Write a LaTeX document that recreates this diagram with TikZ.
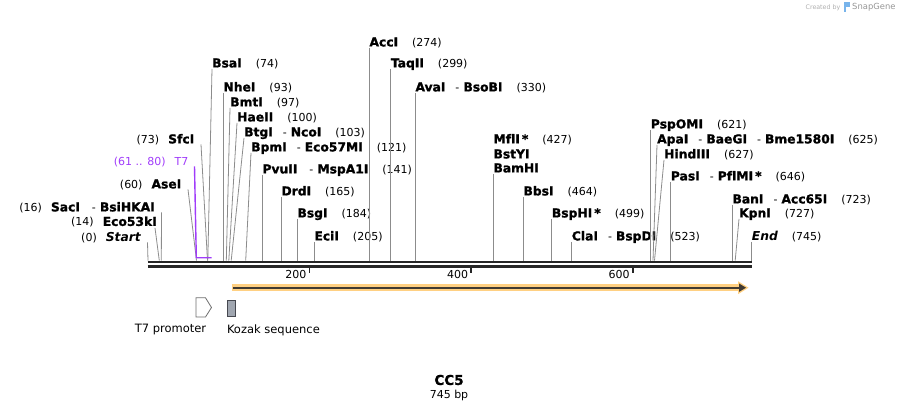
\documentclass[tikz,border=0pt]{standalone}
\usepackage{fontspec}
\setmainfont{DejaVu Sans}[Ligatures=NoCommon, BoldFeatures={FakeBold=1.3}]
\usetikzlibrary{arrows.meta}
\definecolor{sitec}{RGB}{140,140,140}
\definecolor{bbc}{RGB}{38,38,38}
\definecolor{tsev}{RGB}{160,60,250}
\definecolor{glowc}{RGB}{255,208,130}
\definecolor{featc}{RGB}{64,58,50}
\definecolor{kozakc}{RGB}{160,166,176}
\definecolor{sgblue}{RGB}{120,180,235}
\newcommand\enzn[1]{{\fontsize{12.3}{14}\selectfont\bfseries #1}}
\newcommand\enzp[1]{{\fontsize{11}{13}\selectfont(#1)}}
\newcommand\enzsep{\hspace{10pt}{\fontsize{11}{13}\selectfont-}\hspace{4pt}}
\newcommand\enzgap{\hspace{14pt}}
\newcommand\enzlgap{\hspace{9pt}}
\begin{document}
\begin{tikzpicture}[x=1pt,y=-1pt,
  rlab/.style={anchor=base west, inner sep=0pt},
  llab/.style={anchor=base east, inner sep=0pt},
  sitel/.style={draw=sitec, line width=0.8pt},
  bbline/.style={draw=bbc, line width=2.6pt},
  tickl/.style={draw=bbc, line width=1.6pt},
  ticklab/.style={anchor=east, inner sep=0pt, font=\fontsize{11}{13}\selectfont},
  featlab/.style={inner sep=0pt, font=\fontsize{11.5}{13}\selectfont}]
\useasboundingbox (0,0) rectangle (900,411);

% backbone
\coordinate (bbL1) at (147.5,262); \coordinate (bbR1) at (752,262);
\coordinate (bbL2) at (147.5,266.3); \coordinate (bbR2) at (752,266.3);
\draw[bbline] (bbL1) -- (bbR1);
\draw[bbline] (bbL2) -- (bbR2);

% ticks
\coordinate (t200a) at (309.3,267); \coordinate (t200b) at (309.3,273.5);
\coordinate (t400a) at (471,267); \coordinate (t400b) at (471,273.5);
\coordinate (t600a) at (632.7,267); \coordinate (t600b) at (632.7,273.5);
\draw[tickl] (t200a) -- (t200b);
\draw[tickl] (t400a) -- (t400b);
\draw[tickl] (t600a) -- (t600b);
\node[ticklab] (l200) at (306.5,274.5) {200};
\node[ticklab] (l400) at (468.2,274.5) {400};
\node[ticklab] (l600) at (629.9,274.5) {600};

% site coordinates on the backbone
\foreach \n/\x in {0/148,14/159.3,16/161.3,60/196.5,73/207.5,74/207.8,93/223.3,97/226.3,100/228.8,103/231.2,121/245.7,141/262.3,165/281.3,184/297.3,205/314.3,274/369.3,299/390.7,330/415.3,427/493.3,464/523.3,499/551.7,523/571.7,621/650.7,625/653,627/654.5,646/670.7,723/732.3,727/735.2,745/751.7}
  \coordinate (s\n) at (\x,260.6);

% right-side labels
\node[rlab] (bsa)  at (212,67.4)   {\enzn{BsaI}\enzgap\enzp{74}};
\node[rlab] (nhe)  at (223.3,91.4) {\enzn{NheI}\enzgap\enzp{93}};
\node[rlab] (bmt)  at (230,106.4)  {\enzn{BmtI}\enzgap\enzp{97}};
\node[rlab] (hae)  at (237,121.4)  {\enzn{HaeII}\enzgap\enzp{100}};
\node[rlab] (btg)  at (244,136.4)  {\enzn{BtgI}\enzsep\enzn{NcoI}\enzgap\enzp{103}};
\node[rlab] (bpm)  at (251,151.4)  {\enzn{BpmI}\enzsep\enzn{Eco57MI}\enzgap\enzp{121}};
\node[rlab] (pvu)  at (262.3,173.4){\enzn{PvuII}\hspace{2pt}\enzsep\enzn{MspA1I}\enzgap\enzp{141}};
\node[rlab] (drd)  at (281.3,195.4){\enzn{DrdI}\enzgap\enzp{165}};
\node[rlab] (bsg)  at (297.3,217.4){\enzn{BsgI}\enzgap\enzp{184}};
\node[rlab] (eci)  at (314.3,240.4){\enzn{EciI}\enzgap\enzp{205}};
\node[rlab] (acc)  at (369.3,46.4) {\enzn{AccI}\enzgap\enzp{274}};
\node[rlab] (taq)  at (390.7,67.4) {\enzn{TaqII}\enzgap\enzp{299}};
\node[rlab] (ava)  at (415.3,91.4) {\enzn{AvaI}\enzsep\enzn{BsoBI}\enzgap\enzp{330}};
\node[rlab] (mfl)  at (493.3,143.4){\enzn{Mf{}lI\,*}\enzgap\enzp{427}};
\node[rlab] (bsty) at (493.3,158.4){\enzn{BstYI}};
\node[rlab] (bam)  at (493.3,172.4){\enzn{BamHI}};
\node[rlab] (bbs)  at (523.3,195.4){\enzn{BbsI}\enzgap\enzp{464}};
\node[rlab] (bsph) at (551.7,217.4){\enzn{BspHI\,*}\enzgap\enzp{499}};
\node[rlab] (cla)  at (571.7,240.4){\enzn{ClaI}\enzsep\enzn{BspDI}\enzgap\enzp{523}};
\node[rlab] (psp)  at (650.7,128.4){\enzn{PspOMI}\enzgap\enzp{621}};
\node[rlab] (apa)  at (657,143.4)  {\enzn{ApaI}\enzsep\enzn{BaeGI}\enzsep\enzn{Bme1580I}\enzgap\enzp{625}};
\node[rlab] (hind) at (664,158.4)  {\enzn{HindIII}\enzgap\enzp{627}};
\node[rlab] (pas)  at (670.7,180.4){\enzn{PasI}\enzsep\enzn{Pf{}lMI\,*}\enzgap\enzp{646}};
\node[rlab] (ban)  at (732.3,203.4){\enzn{BanI}\enzsep\enzn{Acc65I}\enzgap\enzp{723}};
\node[rlab] (kpn)  at (739,217.4)  {\enzn{KpnI}\enzgap\enzp{727}};
\node[rlab] (endl) at (751.7,240.4){\enzn{\itshape End}\enzgap\enzp{745}};

% left-side labels
\node[llab] (sfc)  at (194.5,143.4)  {\enzp{73}\enzlgap\enzn{SfcI}};
\node[llab, text=tsev] (t7) at (188.5,165.4) {\fontsize{11}{13}\selectfont(61 .. 80)\enzlgap T7};
\node[llab] (ase)  at (181.5,188.4)  {\enzp{60}\enzlgap\enzn{AseI}};
\node[llab] (sac)  at (155,211.4)  {\enzp{16}\enzlgap\enzn{SacI}\hspace{2pt}\enzsep\enzn{BsiHKAI}};
\node[llab] (eco)  at (157,225.9)  {\enzp{14}\enzlgap\enzn{Eco53kI}};
\node[llab] (startl) at (141,241.4){\enzp{0}\enzlgap\enzn{\itshape Start}};

% site lines, right labels
\foreach \l/\s in {bsa/74,nhe/93,bmt/97,hae/100,btg/103,bpm/121,pvu/141,drd/165,bsg/184,eci/205,acc/274,taq/299,ava/330,bam/427,bbs/464,bsph/499,cla/523,psp/621,apa/625,hind/627,pas/646,ban/723,kpn/727,endl/745}
  \draw[sitel] ([yshift=-1.6pt]\l.base west) -- (s\s);
% site lines, left labels
\foreach \l/\s in {sfc/73,ase/60,sac/16,startl/0}
  \draw[sitel] ([xshift=6.5pt,yshift=-1pt]\l.base east) -- (s\s);
\draw[sitel] ([xshift=-2pt,yshift=-2pt]eco.base east) -- (s14);

% T7 feature bracket
\coordinate (f61) at (196.3,257.8);
\coordinate (f80) at (211.7,257.8);
\draw[tsev, line width=1.4pt] ([xshift=6pt,yshift=-1pt]t7.base east) -- (f61) -- (f80);

% ORF arrow
\coordinate (orfA) at (231.5,287.7);
\coordinate (orfB) at (738,287.7);
\coordinate (orfT) at (748.5,287.7);
\draw[glowc, line width=6.5pt] (orfA) -- (orfB);
\fill[glowc] ([yshift=6.5pt]orfB) -- (orfT) -- ([yshift=-6.5pt]orfB) -- cycle;
\draw[featc, line width=2pt] ([xshift=1.5pt]orfA) -- ([xshift=2pt]orfB);
\fill[featc] ([xshift=1pt,yshift=4.2pt]orfB) -- ([xshift=-2.5pt]orfT) -- ([xshift=1pt,yshift=-4.2pt]orfB) -- cycle;

% T7 promoter and Kozak
\draw[draw={rgb,255:red,110;green,110;blue,110}, fill=white, line width=0.8pt]
  (196,297.8) coordinate (pA) -- (205.5,297.8) -- (211.5,307.5) coordinate (pT) -- (205.5,317) -- (196,317) -- cycle;
\node[featlab] (t7p) at (170.5,330) {T7 promoter};
\draw[draw={rgb,255:red,70;green,72;blue,80}, fill=kozakc, line width=0.8pt]
  (227.5,300.3) rectangle (235.3,316.3);
\node[featlab, anchor=west] (koz) at (226.8,330) {Kozak sequence};

% title
\node[inner sep=0pt, font=\fontsize{13.5}{15}\selectfont\bfseries] (title) at (449,380) {CC5};
\node[inner sep=0pt, font=\fontsize{11}{13}\selectfont] (len) at (449,395) {745 bp};

% credit
\node[inner sep=0pt, anchor=east, text={rgb,255:red,175;green,175;blue,175}, font=\fontsize{6.3}{7}\selectfont] (cre) at (840.5,7.3) {Created by};
\fill[sgblue] (843.5,2.5) rectangle (849.5,7.5);
\fill[sgblue] (843.5,7) rectangle (846.3,12);
\node[inner sep=0pt, anchor=west, text={rgb,255:red,150;green,150;blue,150}, font=\fontsize{8.4}{9}\selectfont] (sg) at (852,7.3) {SnapGene};
\end{tikzpicture}
\end{document}
